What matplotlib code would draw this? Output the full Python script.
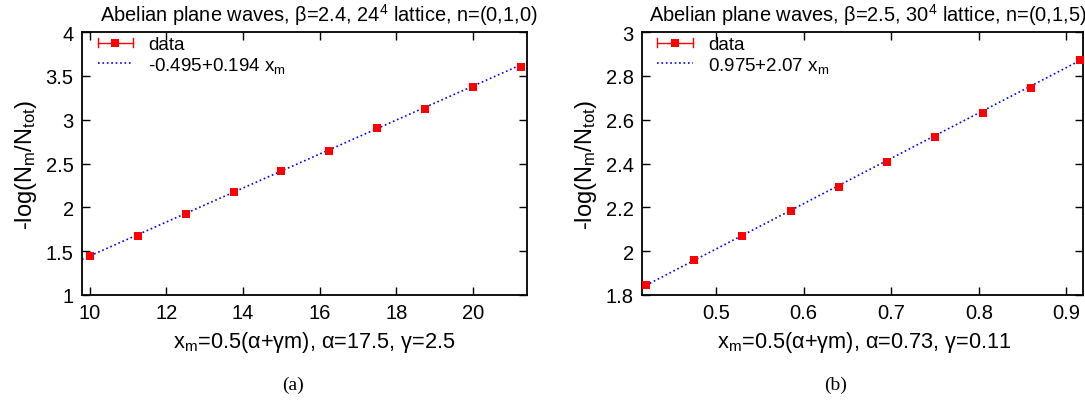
import numpy as np
import matplotlib
matplotlib.use("Agg")
import matplotlib.pyplot as plt
from matplotlib.legend_handler import HandlerBase
from matplotlib.lines import Line2D

plt.rcParams['font.family'] = ['Liberation Sans', 'DejaVu Sans']
plt.rcParams['mathtext.fontset'] = 'custom'
plt.rcParams['mathtext.rm'] = 'Liberation Sans'
plt.rcParams['mathtext.it'] = 'Liberation Sans'

# panel (a)
xa = [10.0, 11.25, 12.5, 13.75, 15.0, 16.25, 17.5, 18.75, 20.0, 21.25]
ya = [1.440, 1.677, 1.925, 2.173, 2.410, 2.647, 2.902, 3.120, 3.368, 3.605]
ea = [0.01, 0.01, 0.01, 0.01, 0.01, 0.01, 0.01, 0.012, 0.015, 0.02]
fit_a = (-0.495, 0.194)

# panel (b)
xb = [0.42, 0.475, 0.53, 0.585, 0.64, 0.695, 0.75, 0.805, 0.86, 0.915]
yb = [1.845, 1.959, 2.071, 2.183, 2.292, 2.409, 2.522, 2.630, 2.747, 2.872]
eb = [0.004, 0.004, 0.004, 0.004, 0.004, 0.004, 0.005, 0.005, 0.005, 0.006]
fit_b = (0.975, 2.07)


class ErrKey(HandlerBase):
    # gnuplot style key: horizontal bar with caps and a square in the middle
    def create_artists(self, legend, orig, xd, yd, w, h, fs, trans):
        y = h / 2 - yd
        x0, x1 = -xd, -xd + w
        c = 3
        arts = [Line2D([x0, x1], [y, y], color='red', lw=1),
                Line2D([x0, x0], [y - c, y + c], color='red', lw=1),
                Line2D([x1, x1], [y - c, y + c], color='red', lw=1),
                Line2D([(x0 + x1) / 2], [y], marker='s', color='red', ms=5.5, mew=0)]
        for a in arts:
            a.set_transform(trans)
        return arts


def panel(ax, x, y, err, fit, xlim, ylim, yticks, xticks, title, fitlabel, xlabel,
          title_x, xlab_x):
    xx = np.linspace(xlim[0], xlim[1], 200)
    eb_ = ax.errorbar(x, y, yerr=err, fmt='s', color='red', ms=5.5, mew=0,
                      ecolor='red', elinewidth=1, capsize=2, zorder=3)
    fl, = ax.plot(xx, fit[0] + fit[1] * xx, ':', color='blue', lw=1.2, zorder=2)
    ax.set_xlim(*xlim)
    ax.set_ylim(*ylim)
    ax.set_xticks(xticks)
    ax.set_yticks(yticks)
    ax.set_xticklabels([('%g' % t) for t in xticks])
    ax.set_yticklabels([('%g' % t) for t in yticks])
    ax.tick_params(direction='in', top=True, right=True, length=6, width=1, labelsize=14.5, pad=6)
    for s in ax.spines.values():
        s.set_linewidth(1.3)
    ax.set_title(title, fontsize=14.4, pad=8, x=title_x)
    ax.set_xlabel(xlabel, fontsize=15.7, labelpad=5, x=xlab_x)
    ax.set_ylabel(r'-log(N$_\mathrm{m}$/N$_\mathrm{tot}$)', fontsize=17, labelpad=5)
    ax.legend([eb_, fl], ['data', fitlabel], handler_map={type(eb_): ErrKey()},
              loc='upper left', bbox_to_anchor=(0.035, 0.985), frameon=False,
              fontsize=13.5, handlelength=1.9, borderaxespad=0, borderpad=0,
              labelspacing=0.1, handletextpad=0.8)


fig = plt.figure(figsize=(10.85, 4.02), dpi=100)
ax1 = fig.add_axes([0.0756, 0.2637, 0.410, 0.654])
ax2 = fig.add_axes([0.5917, 0.2637, 0.4065, 0.654])

panel(ax1, xa, ya, ea, fit_a, (9.8, 21.4), (1, 4), [1, 1.5, 2, 2.5, 3, 3.5, 4],
      [10, 12, 14, 16, 18, 20],
      r'Abelian plane waves, $\beta$=2.4, 24$^4$ lattice, n=(0,1,0)',
      r'-0.495+0.194 x$_\mathrm{m}$',
      r'x$_\mathrm{m}$=0.5($\alpha$+$\gamma$m), $\alpha$=17.5, $\gamma$=2.5', 0.532, 0.522)
panel(ax2, xb, yb, eb, fit_b, (0.4154, 0.919), (1.8, 3), [1.8, 2, 2.2, 2.4, 2.6, 2.8, 3],
      [0.5, 0.6, 0.7, 0.8, 0.9],
      r'Abelian plane waves, $\beta$=2.5, 30$^4$ lattice, n=(0,1,5)',
      r'0.975+2.07 x$_\mathrm{m}$',
      r'x$_\mathrm{m}$=0.5($\alpha$+$\gamma$m), $\alpha$=0.73, $\gamma$=0.11', 0.512, 0.505)

fig.text(0.270, 0.042, '(a)', ha='center', va='center', fontsize=14, family='Liberation Serif')
fig.text(0.7705, 0.042, '(b)', ha='center', va='center', fontsize=14, family='Liberation Serif')

fig.savefig('out.png', dpi=100)
